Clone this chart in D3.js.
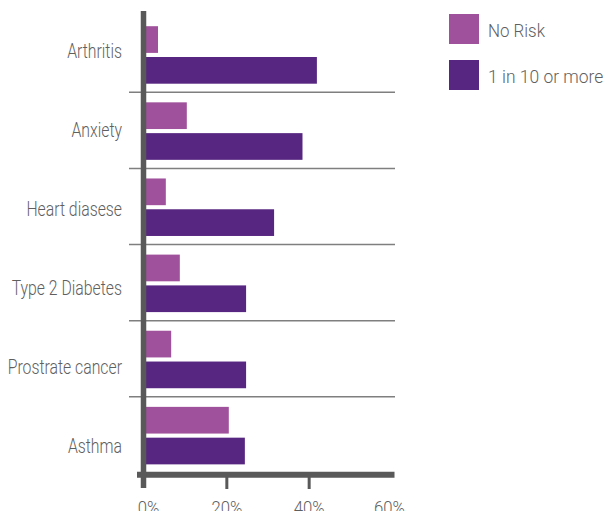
<!DOCTYPE html>
<html lang="en">
<head>
<meta charset="UTF-8">
<title>risk bars</title>
<script src="https://d3js.org/d3.v7.min.js"></script>
<style>
	body { margin: 0; background: #fff; }
	svg text { font-family: "Roboto", sans-serif; font-weight: 300; fill: #5f5f5f; }
</style>
</head>
<body>
<svg id="chart" width="608" height="511"></svg>
<script>
// data
var categories = ["Arthritis", "Anxiety", "Heart diasese", "Type 2 Diabetes", "Prostrate cancer", "Asthma"];
var seriesNames = ["No Risk", "1 in 10 or more"];
var noRisk = [3.4, 10.4, 5.3, 8.7, 6.6, 20.6];
var oneInTen = [42.0, 38.5, 31.6, 24.8, 24.8, 24.5];
var tickValues = [0, 20, 40, 60];
var colors = ["#a0519c", "#572681"];

var svg = d3.select("#chart");

var x = d3.scaleLinear().domain([0, 60]).range([144, 391]);
var y = d3.scaleBand().domain(categories).range([16.2, 473]);
var labelY = d3.scalePoint().domain(categories).range([50.5, 446]);

var rows = categories.map(function(c, i) { return {cat: c, vals: [noRisk[i], oneInTen[i]]}; });

// separators between groups
svg.append("g").selectAll("line")
	.data(categories.slice(1))
	.enter().append("line")
	.attr("x1", 129).attr("x2", 395)
	.attr("y1", function(d) { return y(d); })
	.attr("y2", function(d) { return y(d); })
	.attr("stroke", "#7f7f7f")
	.attr("stroke-width", 1.5);

// bars
var groups = svg.append("g").selectAll("g")
	.data(rows)
	.enter().append("g")
	.attr("transform", function(d) { return "translate(0," + y(d.cat) + ")"; });

groups.selectAll("rect")
	.data(function(d) { return d.vals; })
	.enter().append("rect")
	.attr("x", x(0))
	.attr("y", function(d, i) { return 10 + i * 30.8; })
	.attr("height", 26.7)
	.attr("width", function(d) { return x(d) - x(0); })
	.attr("fill", function(d, i) { return colors[i]; });

// category labels (condensed look)
svg.append("g").selectAll("text")
	.data(categories)
	.enter().append("text")
	.attr("transform", function(d) { return "translate(122," + labelY(d) + ") scale(0.79,1)"; })
	.attr("dy", "0.36em")
	.attr("text-anchor", "end")
	.attr("font-size", 20)
	.text(function(d) { return d; });

// x axis
var xAxis = svg.append("g")
	.attr("transform", "translate(0,477)")
	.call(d3.axisBottom(x).tickValues(tickValues).tickSize(12)
		.tickFormat(function(d) { return d + "%"; }));
xAxis.select(".domain").remove();
xAxis.selectAll(".tick line")
	.attr("stroke", "#595959")
	.attr("stroke-width", 3)
	.attr("opacity", function(d) { return (d == 0 || d == 60) ? 0 : 1; });
xAxis.selectAll(".tick text")
	.attr("y", 0)
	.attr("dy", 0)
	.attr("transform", function(d) { return "translate(" + (d == 0 ? 4 : (d == 60 ? -2 : 0)) + ",36.5) scale(0.88,1)"; })
	.attr("font-size", 19)
	.attr("fill", "#5f5f5f")
	.attr("font-family", null);

svg.append("line")
	.attr("x1", 137).attr("x2", 394.5)
	.attr("y1", 474.7).attr("y2", 474.7)
	.attr("stroke", "#595959")
	.attr("stroke-width", 6);

// y axis
svg.append("line")
	.attr("x1", 143.5).attr("x2", 143.5)
	.attr("y1", 11).attr("y2", 488)
	.attr("stroke", "#595959")
	.attr("stroke-width", 5.5);

// legend
var legend = svg.append("g").selectAll("g")
	.data(seriesNames)
	.enter().append("g")
	.attr("transform", function(d, i) { return "translate(449," + (14 + i * 46) + ")"; });
legend.append("rect")
	.attr("width", 30).attr("height", 30)
	.attr("fill", function(d, i) { return colors[i]; });
legend.append("text")
	.attr("transform", function(d, i) { return "translate(39,16) scale(" + (i == 0 ? 0.89 : 0.92) + ",1)"; })
	.attr("dy", "0.36em")
	.attr("font-size", 19)
	.text(function(d) { return d; });
</script>
</body>
</html>
